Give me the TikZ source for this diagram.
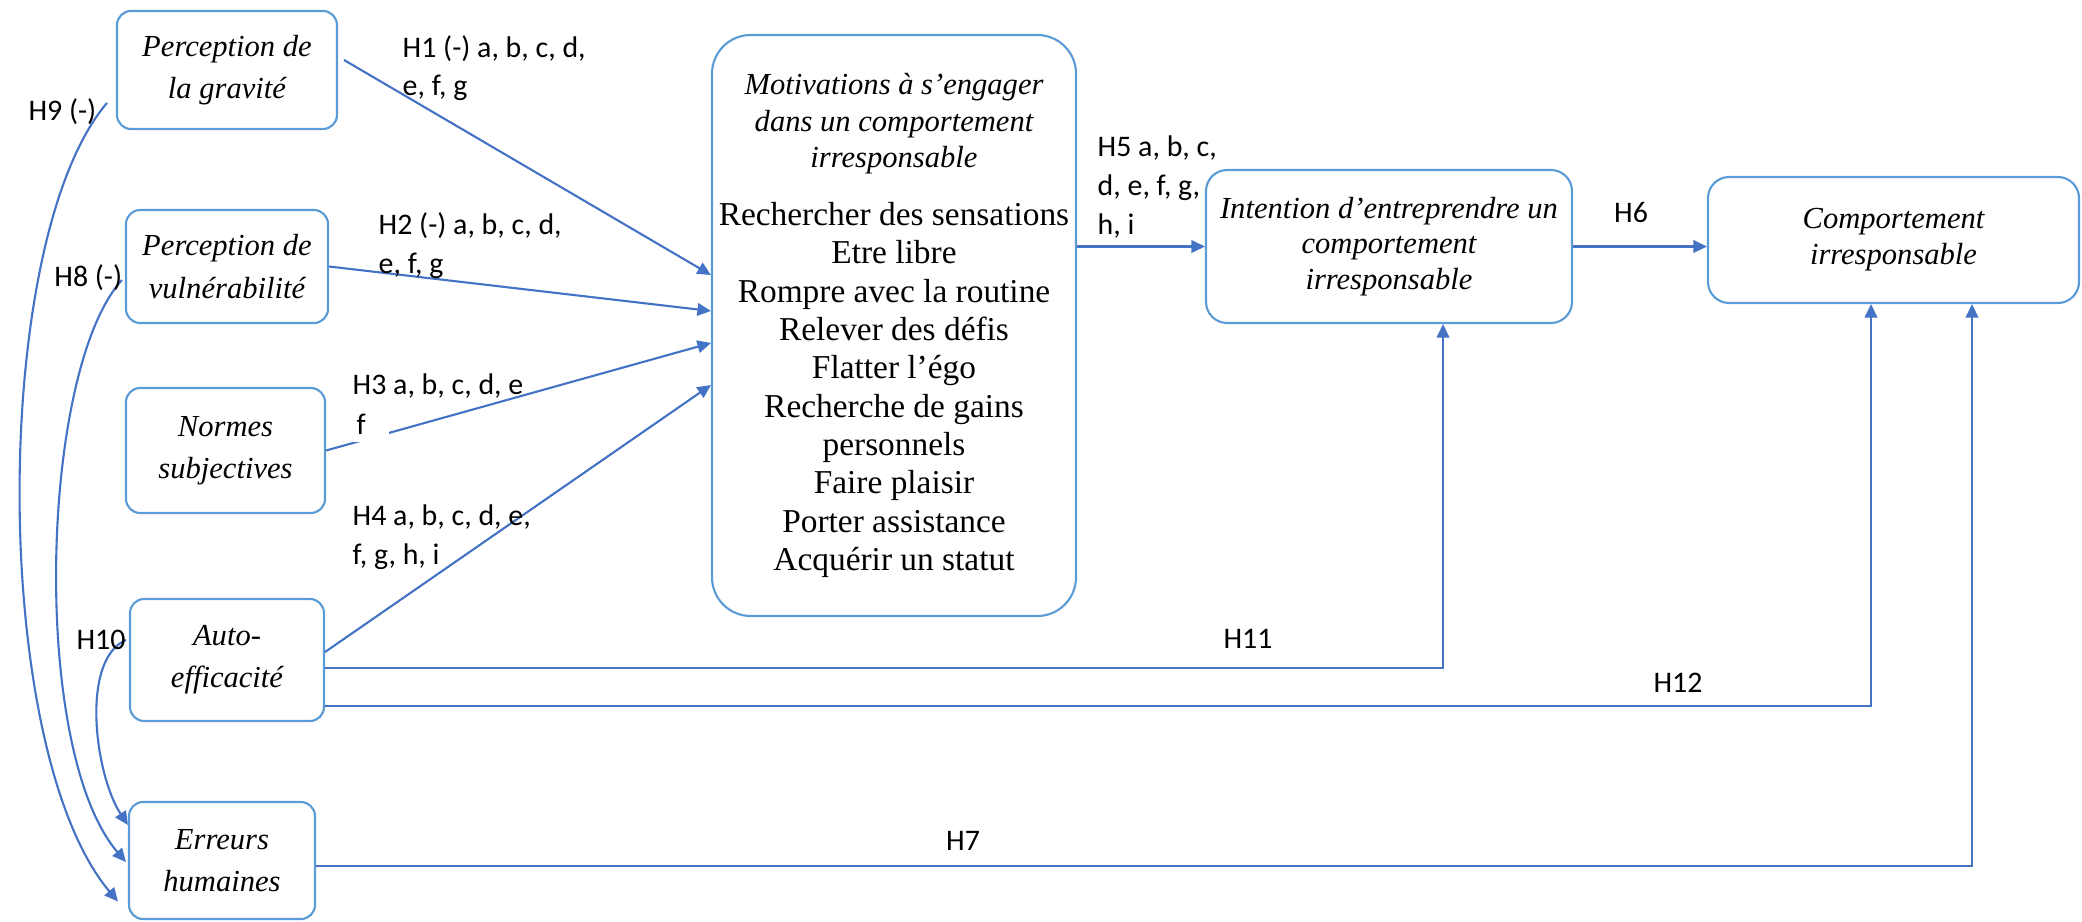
\documentclass[tikz,border=0pt]{standalone}
\usepackage{fontspec}
\setmainfont{Liberation Serif}
\newfontfamily\etiqfont{Carlito}
\usetikzlibrary{arrows.meta,calc}
\definecolor{bleutrait}{RGB}{68,114,196}
\definecolor{bleuboite}{RGB}{91,155,213}
\newcommand{\titremotiv}[1]{{\fontsize{8.7}{10.2}\selectfont\itshape #1}}
\tikzset{
  boite/.style={draw=bleuboite,line width=0.6pt,rounded corners=4pt,align=center,
    inner sep=1pt,font=\itshape\fontsize{8.7}{12}\selectfont},
  fleche/.style={-{Triangle[length=1.35mm,width=1.25mm]},bleutrait,line width=0.6pt},
  etiq/.style={font=\etiqfont\fontsize{8.5}{11}\selectfont,align=left,inner sep=0pt}
}
\begin{document}
\begin{tikzpicture}
\useasboundingbox (0,0) rectangle (20.82,-9.21);
% cases de gauche
\node[boite,minimum width=2.20cm,minimum height=1.18cm] (grav) at (2.27,-0.70) {Perception de\\la gravité};
\node[boite,minimum width=2.02cm,minimum height=1.13cm] (vuln) at (2.27,-2.665) {Perception de\\vulnérabilité};
\node[boite,minimum width=1.99cm,minimum height=1.25cm] (normes) at (2.255,-4.505) {Normes\\subjectives};
\node[boite,minimum width=1.94cm,minimum height=1.22cm] (autoeff) at (2.27,-6.60) {Auto-\\efficacité};
\node[boite,minimum width=1.86cm,minimum height=1.17cm] (erreurs) at (2.22,-8.605) {Erreurs\\humaines};
% motivations
\node[boite,rounded corners=11pt,minimum width=3.64cm,minimum height=5.81cm,
  font=\fontsize{9.5}{10.9}\selectfont] (motiv) at (8.94,-3.255)
  {\titremotiv{Motivations à s’engager}\\[-0.5pt]\titremotiv{dans un comportement}\\[-0.5pt]\titremotiv{irresponsable}\\[5.5pt]
   Rechercher des sensations\\Etre libre\\Rompre avec la routine\\Relever des défis\\Flatter l’égo\\
   Recherche de gains\\personnels\\Faire plaisir\\Porter assistance\\Acquérir un statut};
% cases de droite
\node[boite,rounded corners=6pt,minimum width=3.66cm,minimum height=1.53cm,
  font=\itshape\fontsize{8.7}{10}\selectfont] (intention) at (13.89,-2.465)
  {Intention d’entreprendre un\\comportement\\irresponsable};
\node[boite,rounded corners=6pt,minimum width=3.71cm,minimum height=1.26cm,
  font=\itshape\fontsize{8.7}{10.2}\selectfont] (comport) at (18.935,-2.40)
  {Comportement\\irresponsable};

\coordinate (m1) at ($(motiv.west)+(0,0.505)$);
\coordinate (m2) at ($(motiv.west)+(0,0.145)$);
\coordinate (m3) at ($(motiv.west)+(0,-0.175)$);
\coordinate (m4) at ($(motiv.west)+(0,-0.595)$);
\coordinate (g1) at ($(grav.east)+(0.06,0.1)$);

\draw[fleche] (g1) -- (m1);
\draw[fleche] (vuln.east) -- (m2);
\draw[fleche] (normes.east) -- (m3);
\draw[fleche] ([yshift=0.8mm]autoeff.east) -- (m4);
\draw[fleche] (motiv.east |- intention.west) -- (intention.west);
\draw[fleche] (intention.east) -- (intention.east -| comport.west);
\draw[fleche] ([yshift=-0.8mm]autoeff.east) -| ([xshift=5.4mm]intention.south);
\draw[fleche] ([yshift=-4.6mm]autoeff.east) -| ([xshift=-2.25mm]comport.south);
\draw[fleche] ([yshift=-0.55mm]erreurs.east) -| ([xshift=7.85mm]comport.south);

% courbes a gauche
\coordinate (g9) at ($(grav.west)+(-0.09,-0.33)$);
\coordinate (e9) at ($(erreurs.west)+(-0.1,-0.41)$);
\coordinate (v8) at ($(vuln.west)+(-0.03,-0.135)$);
\coordinate (e8) at ($(erreurs.west)+(-0.02,-0.015)$);
\coordinate (a10) at ($(autoeff.west)+(-0.03,0.2)$);
\coordinate (e10) at ($(erreurs.west)+(0,0.355)$);
\draw[fleche] (g9) .. controls (-0.1,-2.4) and (-0.1,-7.5) .. (e9);
\draw[fleche] (v8) .. controls (0.4,-3.7) and (0.3,-7.5) .. (e8);
\draw[fleche] (a10) .. controls (0.8,-6.6) and (0.95,-7.75) .. (e10);

% etiquettes
\node[etiq,anchor=west] (lh1) at (4.02,-0.68) {H1 (-) a, b, c, d,\\e, f, g};
\node[etiq,anchor=west] (lh2) at (3.78,-2.455) {H2 (-) a, b, c, d,\\e, f, g};
\node[etiq,anchor=west] (lh3) at (3.52,-3.864) {H3 a, b, c, d, e};
\node[etiq,anchor=west,fill=white,inner xsep=1.2mm,text width=2mm,minimum height=3.6mm] (lh3f) at (3.44,-4.24) {f};
\node[etiq,anchor=west] (lh4) at (3.52,-5.37) {H4 a, b, c, d, e,\\f, g, h, i};
\node[etiq,anchor=west] (lh5) at (10.97,-1.87) {H5 a, b, c,\\d, e, f, g,\\h, i};
\node[etiq] (lh6) at (16.31,-2.125) {H6};
\node[etiq] (lh11) at (12.48,-6.39) {H11};
\node[etiq] (lh12) at (16.78,-6.83) {H12};
\node[etiq] (lh7) at (9.63,-8.41) {H7};
\node[etiq] (lh9) at (0.624,-1.115) {H9 (-)};
\node[etiq] (lh8) at (0.883,-2.775) {H8 (-)};
\node[etiq] (lh10) at (1.01,-6.40) {H10};
\end{tikzpicture}
\end{document}
